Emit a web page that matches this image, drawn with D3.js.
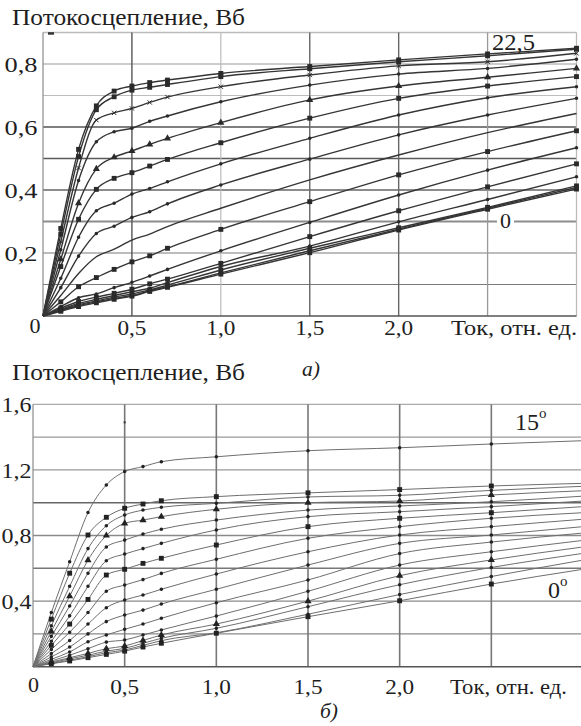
<!DOCTYPE html>
<html>
<head>
<meta charset="utf-8">
<script src="https://cdn.jsdelivr.net/npm/d3@7"></script>
<style>
body { margin: 0; background: #fff; }
</style>
</head>
<body>
<div class="vis"></div>
<script>
var w = 581;
var h = 726;

// current, rel. units (points where flux was measured)
var currentPts = [0, 0.1, 0.2, 0.3, 0.4, 0.5, 0.6, 0.7, 1.0, 1.5, 2.0, 2.5, 3.0];

// panel a) rotor angles, deg
var anglesA = [0, 1.5, 3, 4.5, 6, 7.5, 9, 10.5, 12, 13.5, 15, 16.5, 18, 19.5, 21, 22.5];
// flux linkage, Wb (one row per angle)
var fluxA = [
    [0, .015, .030, .042, .053, .063, .078, .091, .133, .201, .273, .339, .403],
    [0, .017, .033, .045, .056, .065, .080, .093, .137, .207, .276, .342, .408],
    [0, .019, .036, .048, .060, .070, .083, .098, .146, .215, .280, .345, .413],
    [0, .021, .040, .053, .065, .077, .088, .106, .157, .222, .299, .370, .442],
    [0, .025, .046, .060, .072, .085, .102, .117, .167, .252, .334, .410, .483],
    [0, .030, .058, .070, .090, .107, .127, .148, .207, .297, .384, .463, .534],
    [0, .045, .093, .122, .148, .172, .191, .215, .275, .363, .448, .522, .588],
    [0, .065, .135, .188, .212, .241, .260, .284, .342, .432, .511, .582, .643],
    [0, .090, .190, .262, .285, .313, .331, .356, .416, .498, .575, .638, .691],
    [0, .120, .250, .334, .358, .387, .405, .426, .483, .564, .638, .693, .728],
    [0, .157, .307, .402, .437, .455, .476, .497, .550, .628, .691, .730, .760],
    [0, .180, .358, .467, .504, .524, .545, .564, .614, .686, .730, .758, .786],
    [0, .210, .430, .553, .585, .596, .618, .635, .680, .733, .768, .786, .815],
    [0, .236, .470, .622, .645, .659, .678, .695, .728, .765, .794, .807, .834],
    [0, .260, .506, .655, .696, .717, .726, .735, .760, .785, .807, .826, .847],
    [0, .278, .529, .667, .714, .730, .741, .749, .770, .792, .813, .832, .850]
];
var markersA = ["square", "dot", "square", "dot", "square", "dot", "square", "none",
                "dot", "dot", "square", "triangle", "dot", "cross", "square", "square"];

// panel б) rotor angles, deg
var anglesB = [0, 1, 2, 3, 4, 5, 6, 7, 8, 9, 10, 11, 12, 13, 14, 15];
var fluxB = [
    [0, .018, .035, .055, .075, .095, .120, .143, .204, .305, .402, .504, .594],
    [0, .020, .040, .061, .085, .102, .130, .159, .207, .320, .440, .550, .650],
    [0, .024, .048, .070, .095, .112, .143, .173, .234, .366, .500, .605, .691],
    [0, .028, .055, .081, .110, .126, .160, .193, .260, .400, .555, .651, .730],
    [0, .035, .070, .110, .150, .163, .193, .224, .309, .460, .620, .701, .770],
    [0, .045, .090, .152, .193, .228, .260, .295, .390, .529, .690, .760, .815],
    [0, .060, .120, .200, .275, .315, .345, .382, .472, .620, .752, .803, .854],
    [0, .080, .160, .260, .360, .407, .437, .472, .565, .701, .803, .854, .899],
    [0, .105, .210, .330, .460, .498, .531, .569, .655, .783, .854, .905, .939],
    [0, .130, .260, .410, .559, .594, .630, .661, .742, .854, .905, .939, .976],
    [0, .155, .310, .490, .646, .687, .720, .752, .834, .915, .945, .976, 1.010],
    [0, .185, .370, .570, .730, .772, .809, .838, .894, .955, .980, 1.006, 1.040],
    [0, .215, .430, .650, .800, .874, .894, .915, .960, 1.000, 1.010, 1.047, 1.073],
    [0, .250, .490, .720, .860, .925, .955, .972, .996, 1.035, 1.045, 1.075, 1.100],
    [0, .290, .570, .803, .911, .966, .992, 1.012, 1.037, 1.060, 1.080, 1.102, 1.118],
    [0, .330, .640, .940, 1.108, 1.190, 1.220, 1.250, 1.280, 1.317, 1.335, 1.358, 1.378]
];
var markersB = ["square", "dot", "dot", "triangle", "dot", "dot", "dot", "dot",
                "dot", "square", "dot", "dot", "triangle", "dot", "square", "dot"];

// stray marks left on the original plots
var strayA = [[0.045, 0.897]];
var strayB = [[0.5, 1.49]];

var xTicks = [0.5, 1.0, 1.5, 2.0];
var yTicksA = [0.2, 0.4, 0.6, 0.8];
var yTicksB = [0.4, 0.8, 1.2, 1.6];
var gridYA = [0.1, 0.2, 0.3, 0.4, 0.5, 0.6, 0.7, 0.8, 0.9];
var gridYB = [0.2, 0.4, 0.6, 0.8, 1.0, 1.2, 1.4, 1.6];
var gridX = [0.5, 1.0, 1.5, 2.0, 2.5, 3.0];

var fmt = v => d3.format(".1f")(v).replace(".", ",");
var serif = "'Liberation Serif', 'Times New Roman', serif";

//Create SVG element
var svg = d3.select(".vis")
    .append("svg")
    .attr("width", w)
    .attr("height", h)
    .attr("font-family", serif);

// text helper; len stretches the text to the width seen on the scan
function label(x, y, txt, opt) {
    opt = opt || {};
    var x0 = x;
    if (opt.len && opt.anchor === "end") x0 = x - opt.len;
    if (opt.len && opt.anchor === "middle") x0 = x - opt.len / 2;
    var t = svg.append("text")
        .attr("x", x0)
        .attr("y", y)
        .attr("text-anchor", opt.len ? "start" : (opt.anchor || "start"))
        .attr("font-family", serif)
        .attr("font-size", opt.size || 21)
        .attr("fill", "#1e1e1e")
        .text(txt);
    if (opt.len) t.attr("textLength", opt.len).attr("lengthAdjust", "spacingAndGlyphs");
    if (opt.italic) t.attr("font-style", "italic");
    return t;
}

var symbolFor = {
    square: d3.symbol().type(d3.symbolSquare).size(24),
    dot: d3.symbol().type(d3.symbolCircle).size(10),
    triangle: d3.symbol().type(d3.symbolTriangle).size(22),
    cross: d3.symbol().type(d3.symbolTimes).size(14)
};

function drawPanel(p) {
    var x = d3.scaleLinear().domain([0, 3]).range(p.xr);
    var y = d3.scaleLinear().domain(p.yd).range(p.yr);
    var g = svg.append("g");

    // horizontal grid
    g.selectAll(".gy").data(p.gridY).enter().append("line")
        .attr("x1", x(0)).attr("x2", x(3))
        .attr("y1", d => y(d)).attr("y2", d => y(d))
        .attr("stroke", d => p.gridYStyle(d)[0])
        .attr("stroke-width", d => p.gridYStyle(d)[1]);
    // vertical grid
    g.selectAll(".gx").data(gridX).enter().append("line")
        .attr("x1", d => x(d)).attr("x2", d => x(d))
        .attr("y1", y(0)).attr("y2", y(p.yd[1]))
        .attr("stroke", d => p.gridXStyle(d)[0])
        .attr("stroke-width", d => p.gridXStyle(d)[1]);
    // axes
    g.append("line").attr("x1", x(0)).attr("x2", x(0)).attr("y1", y(0)).attr("y2", y(p.yd[1]))
        .attr("stroke", "#8a8a8a").attr("stroke-width", 1.2);
    g.append("line").attr("x1", x(0)).attr("x2", x(3)).attr("y1", y(0)).attr("y2", y(0))
        .attr("stroke", "#555").attr("stroke-width", 1.6);

    // curves
    var line = d3.line()
        .x((d, i) => x(currentPts[i]))
        .y(d => y(d))
        .curve(d3.curveMonotoneX);

    g.selectAll(".curve").data(p.flux).enter().append("path")
        .attr("d", line)
        .attr("fill", "none")
        .attr("stroke", p.lineColor)
        .attr("stroke-width", p.lineWidth);

    // markers at measured points
    p.flux.forEach((row, k) => {
        var m = p.markers[k];
        if (m === "none") return;
        row.forEach((v, i) => {
            if (i === 0 || currentPts[i] > p.lastMarkX) return;
            g.append("path")
                .attr("d", symbolFor[m]())
                .attr("transform", "translate(" + x(currentPts[i]) + "," + y(v) + ")")
                .attr("fill", m === "cross" ? "none" : p.markColor)
                .attr("stroke", m === "cross" ? p.markColor : "none")
                .attr("stroke-width", 1);
        });
    });

    p.stray.forEach(s => {
        g.append("rect")
            .attr("x", x(s[0]) - p.straySize[0] / 2).attr("y", y(s[1]) - p.straySize[1] / 2)
            .attr("width", p.straySize[0]).attr("height", p.straySize[1])
            .attr("fill", "#333");
    });

    // tick labels
    p.yTicks.forEach(t => label(p.yLabelRight, y(t) + 7.8, fmt(t), {anchor: "end", len: p.yLabelLen}));
    xTicks.forEach(t => label(x(t), p.xLabelY, fmt(t), {anchor: "middle", len: 29}));
    label(p.zeroX, p.xLabelY - 2, "0", {anchor: "middle", len: 11});
    label(p.unitRight, p.xLabelY, "Ток, отн. ед.", {anchor: "end", len: p.unitLen, size: 22});
    return {x: x, y: y};
}

var pa = drawPanel({
    xr: [43, 576.5], yd: [0, 0.9], yr: [316, 32.5],
    gridY: gridYA,
    gridYStyle: d => ({0.1: ["#7a7a7a", 1.2], 0.2: ["#7a7a7a", 1.2], 0.3: ["#8c8c8c", 2.2],
                       0.4: ["#666", 1.4], 0.5: ["#5a5a5a", 1.4], 0.6: ["#555", 1.4],
                       0.7: ["#bdbdbd", 1.2], 0.8: ["#9a9a9a", 1.2], 0.9: ["#bbb", 1.4]})[d],
    gridXStyle: d => ({0.5: ["#555", 1.4], 1: ["#bbb", 1.2], 1.5: ["#666", 1.4], 2: ["#666", 1.4],
                       2.5: ["#999", 1.3], 3: ["#bbb", 1.3]})[d],
    flux: fluxA, markers: markersA,
    lineColor: "#353535", lineWidth: 1.4, markColor: "#2a2a2a", lastMarkX: 3.0,
    stray: strayA, straySize: [6, 2.5],
    yTicks: yTicksA, yLabelRight: 37.5, yLabelLen: 33,
    xLabelY: 335, zeroX: 35, unitRight: 577, unitLen: 126
});

var pb = drawPanel({
    xr: [33, 583], yd: [0, 1.6], yr: [666.7, 404.3],
    gridY: gridYB,
    gridYStyle: d => ({0.2: ["#8a8a8a", 1.3], 0.4: ["#8a8a8a", 1.3], 0.6: ["#777", 1.4], 0.8: ["#8a8a8a", 1.3],
                       1: ["#666", 1.5], 1.2: ["#9a9a9a", 1.3], 1.4: ["#9a9a9a", 1.3], 1.6: ["#aaa", 1.3]})[d],
    gridXStyle: d => ({0.5: ["#777", 1.6], 1: ["#777", 1.6], 1.5: ["#777", 1.6], 2: ["#777", 1.6],
                       2.5: ["#777", 1.6], 3: ["#aaa", 1]})[d],
    flux: fluxB, markers: markersB,
    lineColor: "#6e6e6e", lineWidth: 1.0, markColor: "#222", lastMarkX: 2.5,
    stray: strayB, straySize: [2, 2],
    yTicks: yTicksB, yLabelRight: 31.5, yLabelLen: 30,
    xLabelY: 694, zeroX: 33.5, unitRight: 567, unitLen: 117
});

// titles and curve labels
label(12, 25, "Потокосцепление, Вб", {len: 233, size: 23});
label(12, 380, "Потокосцепление, Вб", {len: 233, size: 23});
label(302, 376, "а)", {italic: true, size: 22, len: 18});
label(320, 718, "б)", {italic: true, size: 22, len: 18});

label(492, 50, "22,5", {size: 24, len: 43});
svg.append("rect").attr("x", 497).attr("y", pa.y(0.3) - 6).attr("width", 17).attr("height", 12).attr("fill", "#fff");
label(500, 228, "0", {size: 22, len: 11});

var t15 = label(515, 430, "15", {size: 24});
t15.append("tspan").attr("dy", -12).attr("font-size", 15).text("o");
var t0 = label(548, 598, "0", {size: 24});
t0.append("tspan").attr("dy", -12).attr("font-size", 15).text("o");
</script>
</body>
</html>
